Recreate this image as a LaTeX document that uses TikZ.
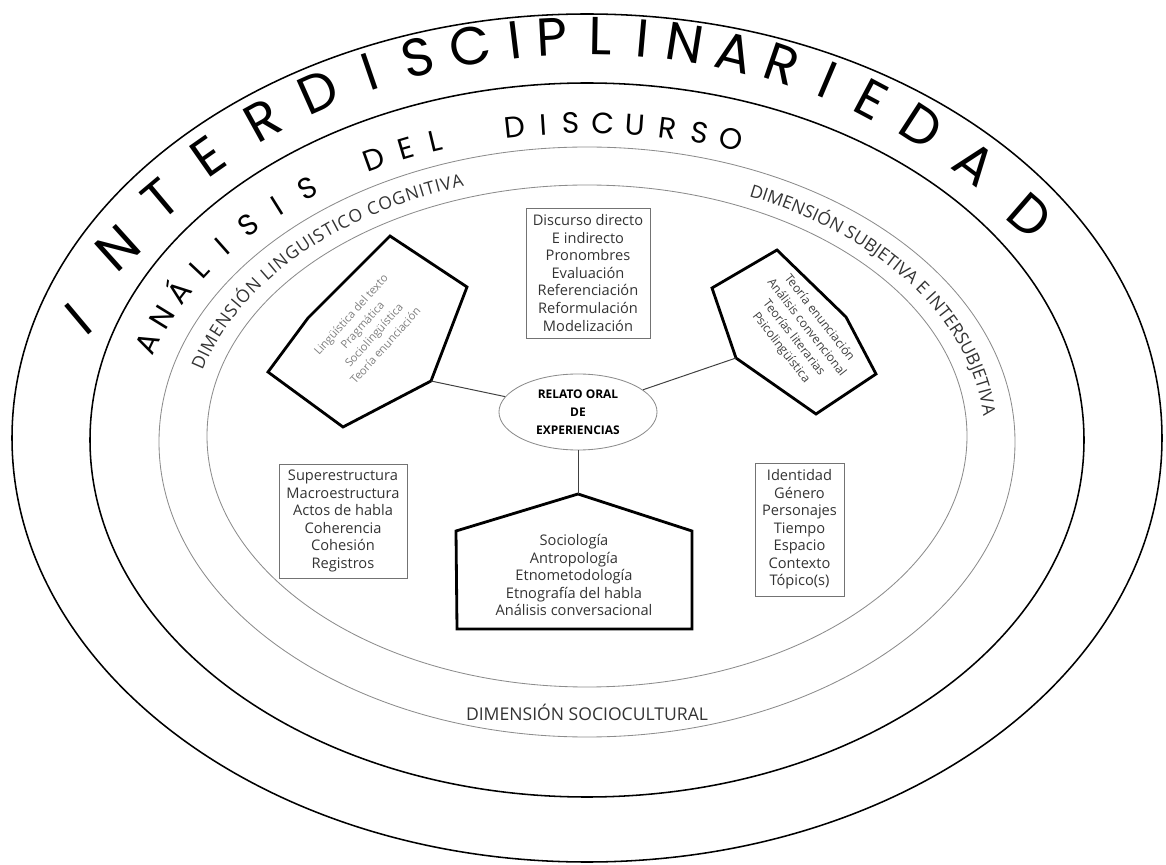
\documentclass[tikz,border=0pt]{standalone}
\usepackage{fontspec}
\setmainfont{Open Sans}
\newfontfamily\archfont{Poppins}
\newcommand\dimfont{\fontsize{12.5}{14}\selectfont}
\usetikzlibrary{shapes.geometric,decorations.text}
\tikzset{
  ring/.style={draw=black, line width=1.1pt},
  band/.style={draw=black!45, line width=0.6pt},
  listbox/.style={draw=black!55, line width=0.6pt, align=center, inner sep=0pt, text=black!80, font=\fontsize{10.4}{12.45}\selectfont},
  listtext/.style={align=center, inner sep=0pt, text=black!80, font=\fontsize{10.4}{12.45}\selectfont},
  field/.style={line width=2pt},
  conn/.style={draw=black!75, line width=0.7pt},
  bigletter/.style={font=\archfont\fontsize{38}{38}\selectfont, inner sep=0pt, text height=27pt, text depth=0pt},
  midletter/.style={font=\archfont\fontsize{21}{21}\selectfont, inner sep=0pt, text height=15pt, text depth=0pt},
  dimlabel/.style={font=\dimfont, text=black!80, inner sep=0pt}
}
\begin{document}
\begin{tikzpicture}[x=0.025cm, y=-0.025cm]
  \useasboundingbox (0,0) rectangle (1166,865);
  % the four rings
  \draw[ring] (587,438) ellipse [x radius=575, y radius=424];
  \draw[ring] (587,440) ellipse [x radius=497, y radius=357];
  \draw[band] (587,442) ellipse [x radius=428, y radius=295];
  \draw[band] (587,436) ellipse [x radius=380, y radius=251];

  % arched titles
  \foreach \ch/\xx/\rot [count=\i] in {I/78/40, N/118/42, T/160/40, E/208/35, R/262/29, D/318/24, I/370/19, S/418/15, C/470/11, I/515/7, P/552/3, L/600/-1, I/643/-5, N/685/-9, A/735/-14, R/782/-19, I/828/-23, E/872/-28, D/922/-33, A/975/-37, D/1030/-41}{
    \pgfmathsetmacro\ang{acos((\xx-587)/535)}
    \node[bigletter, rotate=\rot] (inter\i) at ({587+535*cos(\ang)},{445-409*sin(\ang)}) {\ch};
  }
  \foreach \ch/\ang [count=\i] in {A/162.0, N/157.0, Á/152.0, L/147.1, I/142.2, S/137.2, I/132.2, S/127.2, D/117.5, E/113.1, L/109.2, D/99.0, I/95.4, S/92.0, C/88.0, U/84.0, R/80.0, S/75.9, O/71.8}{
    \pgfmathsetmacro\rot{atan2(-318*cos(\ang),462*sin(\ang))}
    \node[midletter, rotate=\rot] (adis\i) at ({587+462*cos(\ang)},{441-318*sin(\ang)}) {\ch};
  }

  % dimension labels
  \path[decorate, decoration={text along path, text align={fit to path}, text color=black!80, text={|\dimfont|DIMENSIÓN LINGUISTICO COGNITIVA}}]
    ({587+398*cos(165)},{440-267*sin(165)}) arc[start angle=-165, end angle=-108, x radius=398, y radius=267];
  \path[decorate, decoration={text along path, text color=black!80, text={|\dimfont|DIMENSIÓN SUBJETIVA E INTERSUBJETIVA}}]
    ({587+398*cos(66)},{440-267*sin(66)}) arc[start angle=-66, end angle=12, x radius=398, y radius=267];
  \node[dimlabel] (soclab) at (587,712) {DIMENSIÓN SOCIOCULTURAL};

  % fields
  \coordinate (lp1) at (390,236);
  \coordinate (lp2) at (467,287);
  \coordinate (lp3) at (431,381);
  \coordinate (lp4) at (343,427);
  \coordinate (lp5) at (268,372);
  \coordinate (lp6) at (308,318);
  \draw[field] (lp1) -- (lp2) -- (lp3) -- (lp4) -- (lp5) -- (lp6) -- cycle;
  \coordinate (rp1) at (777,250);
  \coordinate (rp2) at (846,317);
  \coordinate (rp3) at (876,374);
  \coordinate (rp4) at (816,414);
  \coordinate (rp5) at (736,358);
  \coordinate (rp6) at (712,288);
  \draw[field] (rp1) -- (rp2) -- (rp3) -- (rp4) -- (rp5) -- (rp6) -- cycle;
  \coordinate (bp1) at (578,494);
  \coordinate (bp2) at (692,531);
  \coordinate (bp3) at (692,629);
  \coordinate (bp4) at (457,629);
  \coordinate (bp5) at (456,531);
  \draw[field] (bp1) -- (bp2) -- (bp3) -- (bp4) -- (bp5) -- cycle;

  \node[align=center, inner sep=0pt, text=black!50, font=\fontsize{8}{11}\selectfont, rotate=48] (lptxt) at (368,330)
    {Lingüística del texto\\Pragmática\\Sociolingüística\\Teoría enunciación};
  \node[align=center, inner sep=0pt, text=black!75, font=\fontsize{8.6}{11.5}\selectfont, rotate=-52] (rptxt) at (800,333)
    {Teoría enunciación\\Análisis convencional\\Teorías literarias\\Psicolingüística};
  \node[listtext] (bptxt) at (574,575)
    {Sociología\\Antropología\\Etnometodología\\Etnografía del habla\\Análisis conversacional};

  % lists
  \node[listbox, minimum width=3.1cm, minimum height=3.25cm] (dirbox) at (588,273)
    {Discurso directo\\E indirecto\\Pronombres\\Evaluación\\Referenciación\\Reformulación\\Modelización};
  \node[listbox, minimum width=3.2cm, minimum height=2.85cm] (estbox) at (343,521)
    {Superestructura\\Macroestructura\\Actos de habla\\Coherencia\\Cohesión\\Registros};
  \node[listbox, minimum width=2.225cm, minimum height=3.325cm] (idbox) at (799.5,529.5)
    {Identidad\\Género\\Personajes\\Tiempo\\Espacio\\Contexto\\Tópico(s)};

  % centre
  \node[draw=black!45, line width=0.6pt, ellipse, minimum width=3.95cm, minimum height=1.9cm, inner sep=0pt, align=center, font=\bfseries\fontsize{8.5}{12.8}\selectfont] (rel) at (578,412)
    {RELATO ORAL\\DE\\EXPERIENCIAS};
  \draw[conn] (rel) -- (lp3);
  \draw[conn] (rel) -- (rp5);
  \draw[conn] (rel) -- (bp1);
\end{tikzpicture}
\end{document}
